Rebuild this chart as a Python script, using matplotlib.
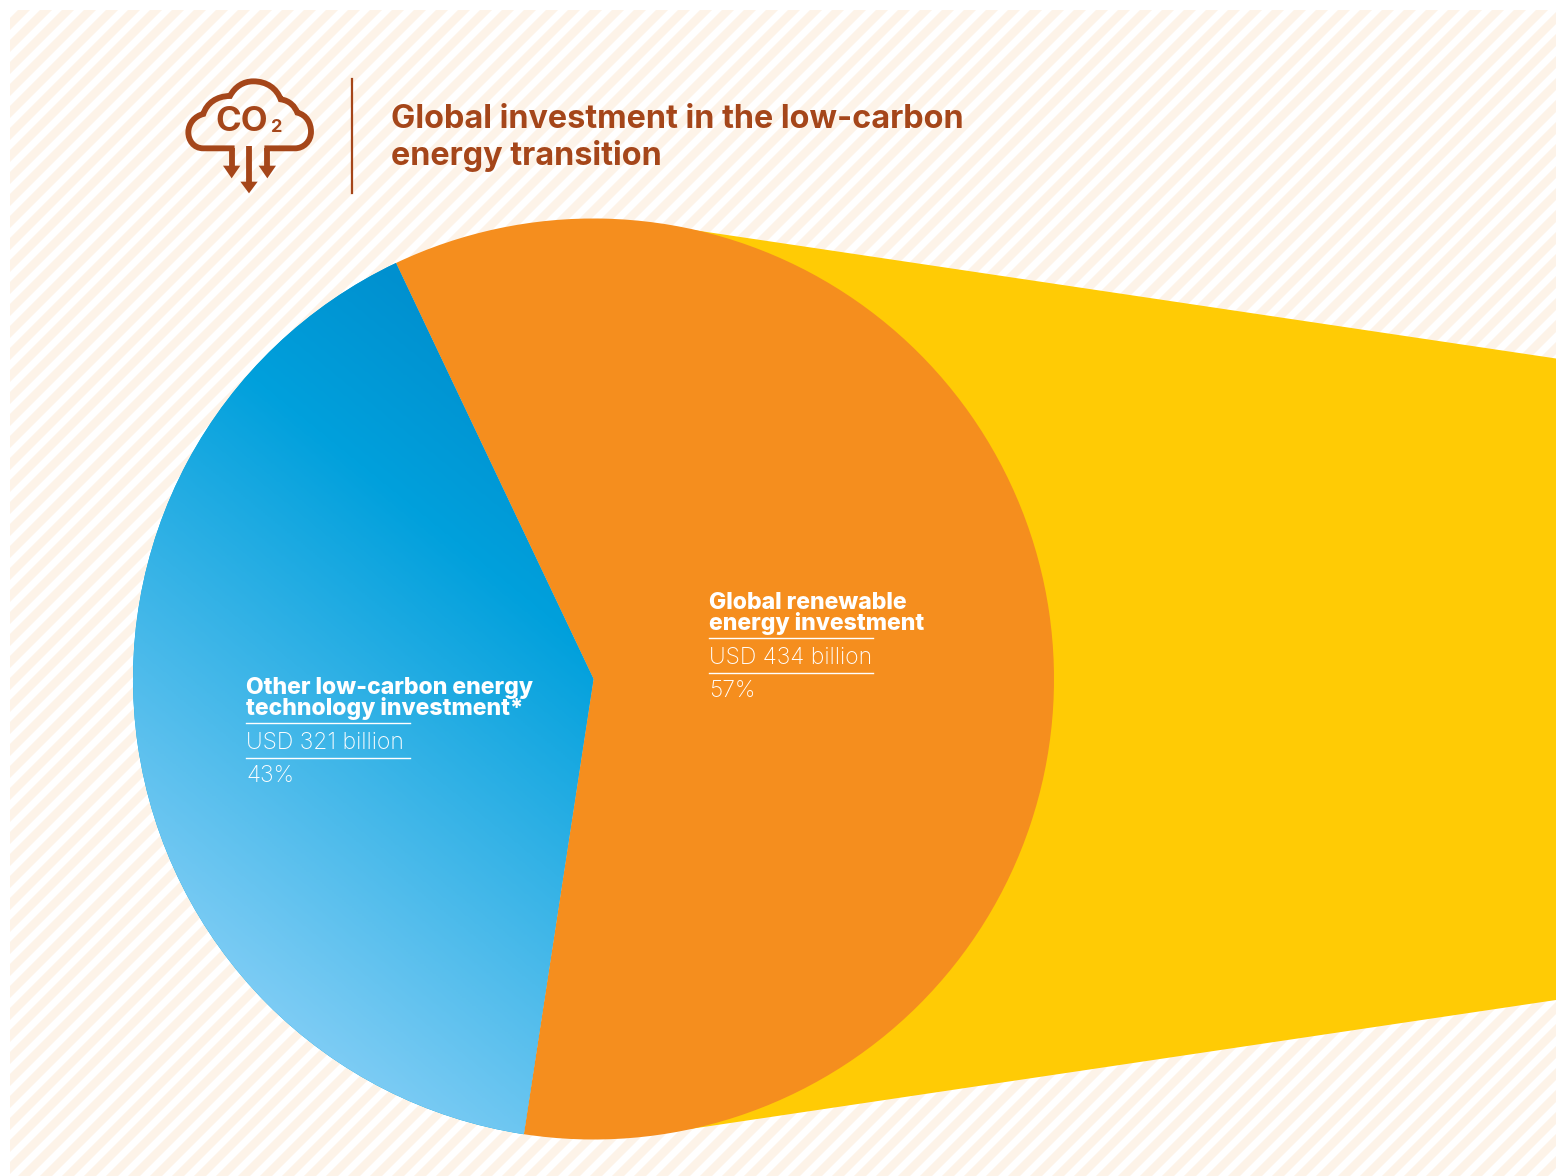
import matplotlib
matplotlib.use('Agg')
import matplotlib.pyplot as plt
from matplotlib import patches
from matplotlib.collections import PolyCollection
from matplotlib.colors import LinearSegmentedColormap
from matplotlib.path import Path
import numpy as np

# labelled values
categories = ['Other low-carbon energy\ntechnology investment*', 'Global renewable\nenergy investment']
amounts = ['USD 321 billion', 'USD 434 billion']
percents = ['43%', '57%']
# slice sizes as drawn in the picture (degrees), a little off the labelled split
slice_degrees = [145.9, 214.1]

BROWN = '#a5461a'
STRIPE = '#fdf3e8'
ORANGE = '#f58e1e'
YELLOW = '#ffcb05'

W, H = 1556, 1176
fig = plt.figure(figsize=(W / 100, H / 100), dpi=100, facecolor='white')
ax = fig.add_axes([0, 0, 1, 1])

# striped panel
panel = patches.Rectangle((10, 10), W - 10, H - 10, fc='white', ec='none', zorder=0)
ax.add_patch(panel)
stripes = []
for c in np.arange(28 - 22, W + H + 22, 22):
    stripes.append([(c, 0), (c + 12, 0), (c + 12 - H, H), (c - H, H)])
stripe_col = PolyCollection(stripes, facecolors=STRIPE, edgecolors='none', zorder=1)
ax.add_collection(stripe_col)
stripe_col.set_clip_path(panel)

# yellow zoom band behind the pie
band = patches.Polygon([(690, 229.5), (W, 358.5), (W, 1000), (690, 1129)], fc=YELLOW, ec='none', zorder=2)
ax.add_patch(band)

wedges, _ = ax.pie(slice_degrees, colors=['#00a0dc', ORANGE], center=(593.5, 679), radius=460.5,
                   startangle=-115.4, counterclock=False, frame=True,
                   wedgeprops=dict(linewidth=0, zorder=3))

# blue slice gradient, light towards lower left
cmap = LinearSegmentedColormap.from_list('blue_grad', [(0, '#0090cf'), (0.26, '#00a0dc'), (1, '#80cdf5')])
xx, yy = np.meshgrid(np.arange(120, 610, 2), np.arange(210, 1150, 2))
s = -0.63 * xx + 0.78 * yy
img = ax.imshow((s + 40) / 670, extent=(120, 610, 1150, 210), cmap=cmap, vmin=0, vmax=1,
                aspect='auto', zorder=3.5, interpolation='bilinear')
img.set_clip_path(wedges[0])

ax.set_xlim(0, W)
ax.set_ylim(H, 0)
ax.axis('off')


# icon, points taken from a 3x crop starting at (160, 60)
def px(x, y):
    return (160 + x / 3, 60 + y / 3)


cloud = [(215, 265), (130, 265), (130, 265), (130, 265), (100, 265), (85, 240), (85, 217),
         (85, 190), (105, 168), (130, 162), (140, 130), (170, 108), (210, 108),
         (225, 80), (250, 64), (280, 64), (320, 64), (350, 85), (362, 118),
         (390, 122), (405, 140), (412, 158), (440, 165), (453, 190), (453, 215),
         (453, 245), (430, 265), (405, 265), (405, 265), (322, 265), (322, 265)]
codes = [Path.MOVETO] + [Path.CURVE4] * (len(cloud) - 1)
ax.add_patch(patches.PathPatch(Path([px(*p) for p in cloud], codes), fc='none', ec=BROWN, lw=4.2,
                               capstyle='projecting', zorder=6))
for x0, y0, y1, y2 in [(215, 265, 320, 355), (267, 258, 368, 400), (322, 265, 320, 355)]:
    ax.plot(*zip(px(x0, y0), px(x0, y1)), color=BROWN, lw=4.2, solid_capstyle='butt', zorder=6)
    ax.add_patch(patches.Polygon([px(x0 - 26, y1 - 3), px(x0 + 26, y1 - 3), px(x0, y2)], fc=BROWN, ec='none', zorder=6))
ax.text(242, 122, 'CO', color=BROWN, fontsize=25, fontweight='bold', family='Inter',
        ha='center', va='center', zorder=6)
ax.text(277, 127, '2', color=BROWN, fontsize=13, fontweight='bold', family='Inter',
        ha='center', va='center', zorder=6)
ax.plot([352, 352], [79, 193], color=BROWN, lw=1.6, zorder=6)

# title
ax.text(391, 128, 'Global investment in the low-carbon', color=BROWN, fontsize=23.3, fontweight='bold',
        family='Inter', va='baseline', zorder=6)
ax.text(391, 165, 'energy transition', color=BROWN, fontsize=23.3, fontweight='bold',
        family='Inter', va='baseline', zorder=6)

# slice labels
label_x = [246, 709]
label_y = [694, 609]
for i in range(2):
    x, y = label_x[i], label_y[i]
    line1, line2 = categories[i].split('\n')
    ax.text(x, y, line1, color='white', fontsize=16.6, fontweight='heavy', family='Inter',
            va='baseline', zorder=7)
    ax.text(x, y + 21, line2, color='white', fontsize=16.6, fontweight='heavy', family='Inter',
            va='baseline', zorder=7)
    ax.plot([x, x + 164], [y + 29, y + 29], color='white', lw=1, zorder=7)
    ax.text(x, y + 55, amounts[i], color='white', fontsize=16.5, fontweight='light', family='Inter',
            va='baseline', zorder=7)
    ax.plot([x, x + 164], [y + 64, y + 64], color='white', lw=1, zorder=7)
    ax.text(x, y + 88, percents[i], color='white', fontsize=16.5, fontweight='light', family='Inter',
            va='baseline', zorder=7)

fig.savefig('out.png', dpi=100)
